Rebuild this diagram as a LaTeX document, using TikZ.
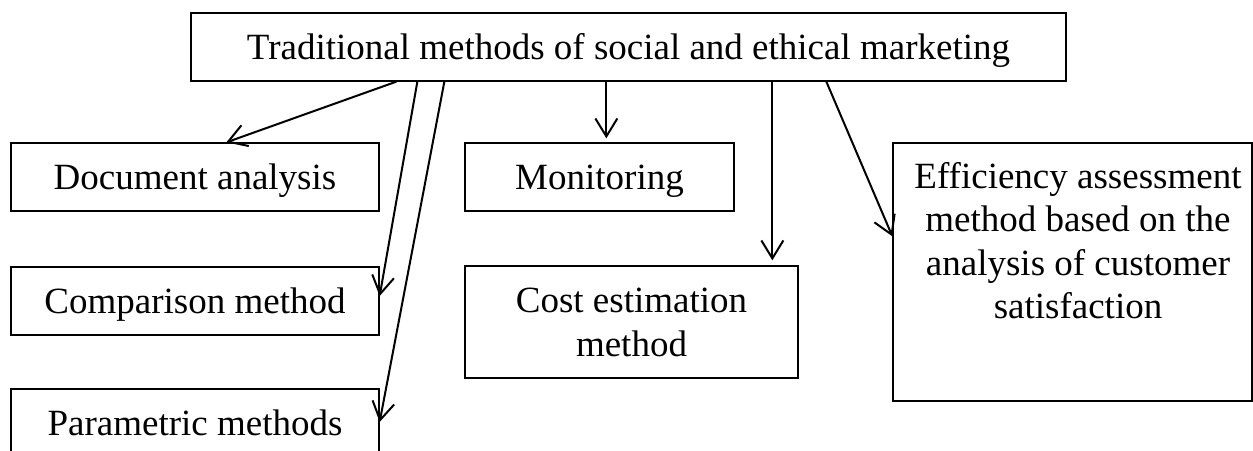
\documentclass[tikz,border=0pt]{standalone}
\usepackage{fontspec}
\setmainfont{Liberation Serif}
\usetikzlibrary{arrows.meta,calc}
\tikzset{
  boxnode/.style={draw, line width=1.3pt, inner sep=0pt, align=center,
    font=\fontsize{37}{44}\selectfont},
  oneline/.style={boxnode, text height=25pt, text depth=0pt},
  arr/.style={line width=2pt, -{Straight Barb[length=18pt,width=22pt,line width=2pt]}}
}
\begin{document}
\begin{tikzpicture}[x=1pt,y=-1pt]
\useasboundingbox (0,0) rectangle (1253,450);
\node[oneline, minimum width=875pt, minimum height=68pt] (top) at (628.5,47) {Traditional methods of social and ethical marketing};
\node[oneline, minimum width=368pt, minimum height=68pt] (doc) at (195,177) {Document analysis};
\node[oneline, minimum width=368pt, minimum height=68pt] (comp) at (195,301) {Comparison method};
\node[oneline, minimum width=368pt, minimum height=68pt] (param) at (195,423) {Parametric methods};
\node[oneline, minimum width=269pt, minimum height=68pt] (mon) at (599.5,177) {Monitoring};
\node[boxnode, minimum width=333pt, minimum height=112pt] (cost) at (631.5,322) {Cost estimation\\method};
\node[boxnode, minimum width=359pt, minimum height=258pt] (eff) at (1072.5,272) {};
\node[align=center, inner sep=0pt, anchor=north, font=\fontsize{37}{43.5}\selectfont] (efftext) at (1078,162) {Efficiency assessment\\method based on the\\analysis of customer\\satisfaction};
\draw[arr] ($(top.south west)+(206,0)$) -- ($(doc.north west)+(216,0)$);
\draw[arr] ($(top.south west)+(227,0)$) -- ($(comp.east)+(0,-5)$);
\draw[arr] ($(top.south west)+(254,0)$) -- ($(param.east)+(0,-1)$);
\draw[arr] ($(top.south west)+(416,0)$) -- ($(mon.north west)+(142,-4)$);
\draw[arr] ($(top.south west)+(582,0)$) -- ($(cost.north west)+(308,-5)$);
\draw[arr] ($(top.south west)+(636,0)$) -- ($(eff.north west)+(0,94)$);
\end{tikzpicture}
\end{document}
